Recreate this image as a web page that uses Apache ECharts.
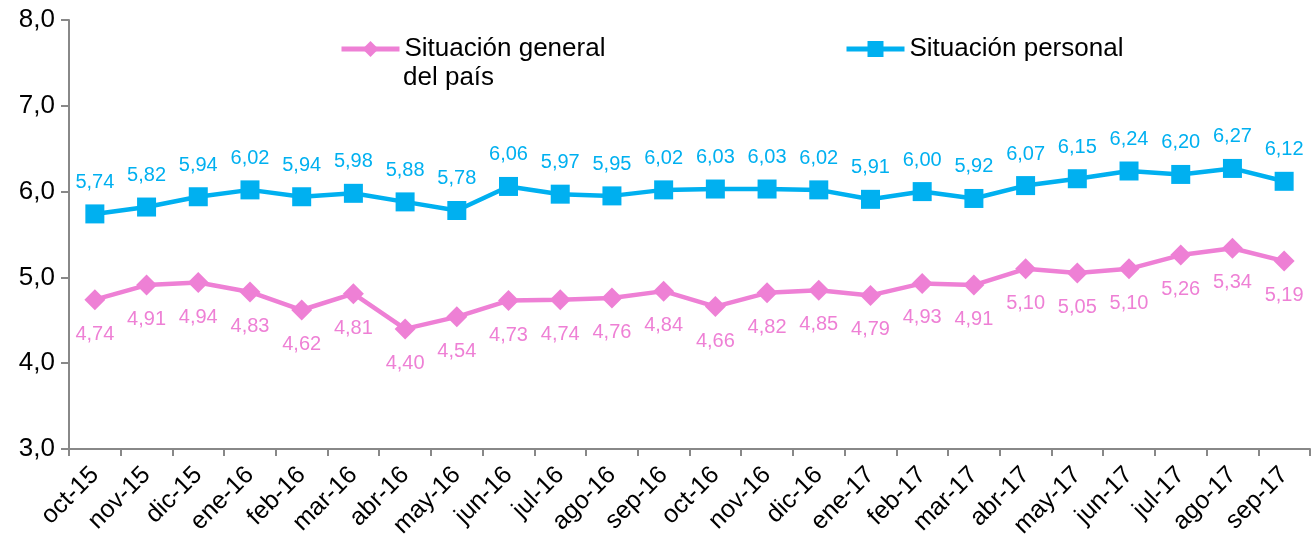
<!DOCTYPE html>
<html>
<head>
<meta charset="utf-8">
<script src="https://cdn.jsdelivr.net/npm/echarts@6/dist/echarts.min.js"></script>
<style>
  html, body { margin: 0; padding: 0; background: #fff; }
  #chart { width: 1314px; height: 542px; }
</style>
</head>
<body>
<div id="chart"></div>
<script>
var months = ["oct-15", "nov-15", "dic-15", "ene-16", "feb-16", "mar-16", "abr-16", "may-16",
  "jun-16", "jul-16", "ago-16", "sep-16", "oct-16", "nov-16", "dic-16", "ene-17",
  "feb-17", "mar-17", "abr-17", "may-17", "jun-17", "jul-17", "ago-17", "sep-17"];
var generalPais = [4.74, 4.91, 4.94, 4.83, 4.62, 4.81, 4.40, 4.54, 4.73, 4.74, 4.76, 4.84,
  4.66, 4.82, 4.85, 4.79, 4.93, 4.91, 5.10, 5.05, 5.10, 5.26, 5.34, 5.19];
var personal = [5.74, 5.82, 5.94, 6.02, 5.94, 5.98, 5.88, 5.78, 6.06, 5.97, 5.95, 6.02,
  6.03, 6.03, 6.02, 5.91, 6.00, 5.92, 6.07, 6.15, 6.24, 6.20, 6.27, 6.12];

var pink = "#EE80D5";
var blue = "#00B0F0";
var font = "Liberation Sans, Arial, sans-serif";

function coma(v, d) {
  return v.toFixed(d).replace(".", ",");
}

var chart = echarts.init(document.getElementById("chart"));
chart.setOption({
  backgroundColor: "#fff",
  animation: false,
  grid: { left: 69, right: 4, top: 20, bottom: 93, containLabel: false },
  legend: [
    {
      data: ["Situación general del país"],
      left: 334, top: 31,
      itemWidth: 58, itemHeight: 20,
      lineStyle: { width: 5 },
      textStyle: { fontFamily: font, fontSize: 26, color: "#000" },
      formatter: function () { return "Situación general"; }
    },
    {
      data: ["Situación personal"],
      left: 839, top: 31,
      itemWidth: 58, itemHeight: 20,
      lineStyle: { width: 5 },
      textStyle: { fontFamily: font, fontSize: 26, color: "#000" }
    }
  ],
  graphic: [
    {
      type: "text",
      left: 403, top: 65,
      style: { text: "del país", fontFamily: font, fontSize: 26, fill: "#000" }
    }
  ],
  xAxis: {
    type: "category",
    data: months,
    boundaryGap: true,
    axisLine: { lineStyle: { color: "#888", width: 2 } },
    axisTick: { show: true, length: 7, lineStyle: { color: "#888", width: 2 } },
    axisLabel: { rotate: 45, interval: 0, fontFamily: font, fontSize: 25, color: "#000", margin: 22 }
  },
  yAxis: {
    type: "value",
    min: 3, max: 8, interval: 1,
    axisLine: { show: true, lineStyle: { color: "#888", width: 2 } },
    axisTick: { show: true, length: 8, lineStyle: { color: "#888", width: 2 } },
    splitLine: { show: false },
    axisLabel: {
      fontFamily: font, fontSize: 26, color: "#000", margin: 14,
      formatter: function (v) { return coma(v, 1); }
    }
  },
  series: [
    {
      name: "Situación general del país",
      type: "line",
      data: generalPais,
      symbol: "diamond",
      symbolSize: 21,
      lineStyle: { color: pink, width: 4.5 },
      itemStyle: { color: pink },
      label: {
        show: true, position: "bottom", distance: 14,
        fontFamily: font, fontSize: 20, color: pink,
        formatter: function (p) { return coma(p.value, 2); }
      }
    },
    {
      name: "Situación personal",
      type: "line",
      data: personal,
      symbol: "rect",
      symbolSize: 19,
      lineStyle: { color: blue, width: 4.5 },
      itemStyle: { color: blue },
      label: {
        show: true, position: "top", distance: 12,
        fontFamily: font, fontSize: 20, color: blue,
        formatter: function (p) { return coma(p.value, 2); }
      }
    }
  ]
});
</script>
</body>
</html>
